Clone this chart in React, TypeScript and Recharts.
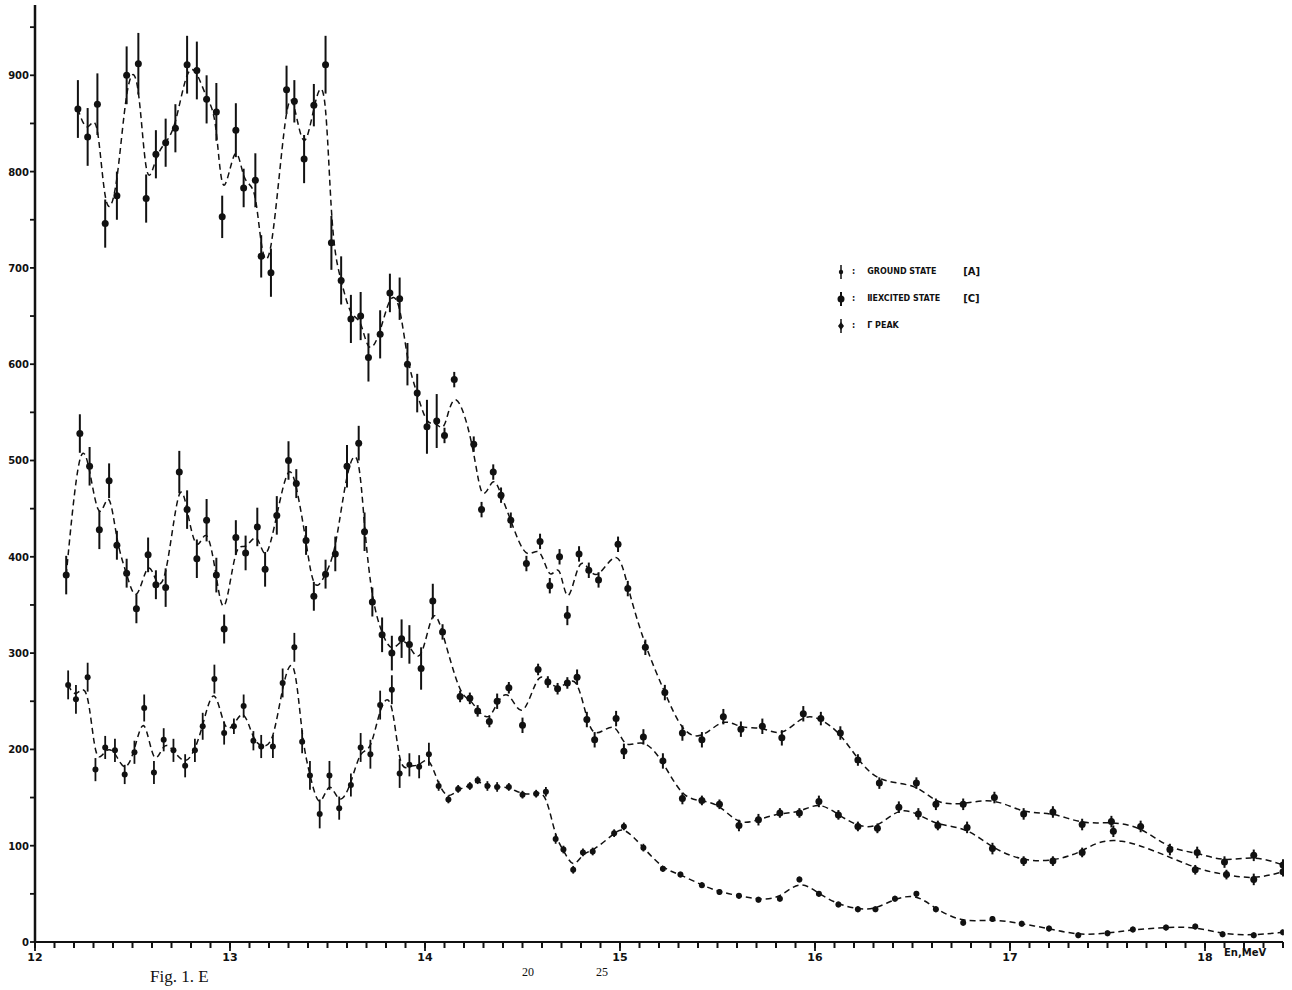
import { ComposedChart, ErrorBar, Line, XAxis, YAxis } from "recharts";

// energy (MeV), counts and error half-widths
const topE = [
  12.22, 12.27, 12.32, 12.36, 12.42, 12.47, 12.53, 12.57, 12.62, 12.67, 12.72, 12.78, 12.83, 12.88,
  12.93, 12.96, 13.03, 13.07, 13.13, 13.16, 13.21, 13.29, 13.33, 13.38, 13.43, 13.49, 13.52, 13.57,
  13.62, 13.67, 13.71, 13.77, 13.82, 13.87, 13.91, 13.96, 14.01, 14.06, 14.1, 14.15, 14.25, 14.29,
  14.35, 14.39, 14.44, 14.52, 14.59, 14.64, 14.69, 14.73, 14.79, 14.84, 14.89, 14.99, 15.04, 15.13,
  15.23, 15.32, 15.42, 15.53, 15.62, 15.73, 15.83, 15.94, 16.03, 16.13, 16.22, 16.33, 16.52, 16.62,
  16.76, 16.92, 17.07, 17.22, 17.37, 17.52, 17.67, 17.82, 17.96, 18.1, 18.25, 18.4,
];
const topV = [
  865, 836, 870, 746, 775, 900, 912, 772, 818, 830, 845, 911, 905, 875, 862, 753, 843, 783, 791, 712,
  695, 885, 873, 813, 869, 911, 726, 687, 647, 650, 607, 631, 674, 668, 600, 570, 535, 541, 526, 584,
  517, 449, 488, 464, 438, 393, 416, 370, 400, 339, 403, 386, 376, 413, 367, 306, 259, 217, 210, 234,
  221, 224, 212, 237, 232, 217, 189, 165, 165, 143, 143, 150, 133, 135, 122, 125, 120, 96, 93, 83, 90,
  80,
];
const topErr = [
  30, 30, 32, 25, 25, 30, 32, 25, 25, 25, 25, 30, 30, 25, 30, 22, 28, 20, 28, 22, 25, 25, 22, 25, 22,
  30, 28, 25, 25, 25, 25, 25, 20, 22, 22, 20, 28, 28, 8, 8, 8, 8, 8, 8, 8, 8, 8, 8, 8, 10, 8, 8, 8, 8,
  8, 8, 8, 8, 8, 8, 8, 8, 8, 8, 7, 7, 6, 6, 6, 6, 6, 6, 6, 6, 6, 6, 6, 6, 6, 6, 6, 6,
];

const midE = [
  12.16, 12.23, 12.28, 12.33, 12.38, 12.42, 12.47, 12.52, 12.58, 12.62, 12.67, 12.74, 12.78, 12.83,
  12.88, 12.93, 12.97, 13.03, 13.08, 13.14, 13.18, 13.24, 13.3, 13.34, 13.39, 13.43, 13.49, 13.54,
  13.6, 13.66, 13.69, 13.73, 13.78, 13.83, 13.88, 13.92, 13.98, 14.04, 14.09, 14.18, 14.23, 14.27,
  14.33, 14.37, 14.43, 14.5, 14.58, 14.63, 14.68, 14.73, 14.78, 14.83, 14.87, 14.98, 15.02, 15.12,
  15.22, 15.32, 15.42, 15.51, 15.61, 15.71, 15.82, 15.92, 16.02, 16.12, 16.22, 16.32, 16.43, 16.53,
  16.63, 16.78, 16.91, 17.07, 17.22, 17.37, 17.53, 17.95, 18.11, 18.25, 18.4,
];
const midV = [
  381, 528, 494, 428, 479, 412, 383, 346, 402, 371, 368, 488, 449, 398, 438, 381, 325, 420, 404, 431,
  387, 443, 500, 476, 417, 359, 382, 403, 494, 518, 426, 353, 319, 300, 315, 309, 284, 354, 322, 255,
  253, 240, 229, 250, 264, 225, 283, 270, 263, 269, 275, 231, 210, 232, 198, 213, 188, 149, 147, 143,
  121, 127, 134, 134, 146, 132, 120, 118, 140, 133, 121, 119, 97, 84, 84, 93, 115, 75, 70, 65, 73,
];
const midErr = [
  20, 20, 20, 20, 18, 15, 15, 15, 18, 15, 20, 22, 20, 20, 22, 18, 15, 18, 18, 20, 18, 20, 20, 15, 15,
  15, 15, 18, 22, 18, 20, 15, 18, 18, 20, 20, 22, 18, 8, 6, 6, 6, 6, 8, 6, 8, 6, 6, 6, 6, 8, 8, 8, 8,
  8, 8, 8, 6, 5, 5, 6, 6, 5, 5, 6, 5, 5, 5, 6, 6, 5, 6, 6, 5, 5, 5, 6, 5, 5, 6, 5,
];

const lowE = [
  12.17, 12.21, 12.27, 12.31, 12.36, 12.41, 12.46, 12.51, 12.56, 12.61, 12.66, 12.71, 12.77, 12.82,
  12.86, 12.92, 12.97, 13.02, 13.07, 13.12, 13.16, 13.22, 13.27, 13.33, 13.37, 13.41, 13.46, 13.51,
  13.56, 13.62, 13.67, 13.72, 13.77, 13.83, 13.87, 13.92, 13.97, 14.02, 14.07, 14.12, 14.17, 14.23,
  14.27, 14.32, 14.37, 14.43, 14.5, 14.57, 14.62, 14.67, 14.71, 14.76, 14.81, 14.86, 14.97, 15.02,
  15.12, 15.22, 15.31, 15.42, 15.51, 15.61, 15.71, 15.82, 15.92, 16.02, 16.12, 16.22, 16.31, 16.41,
  16.52, 16.62, 16.76, 16.91, 17.06, 17.2, 17.35, 17.5, 17.63, 17.8, 17.95, 18.09, 18.25, 18.4,
];
const lowV = [
  267, 252, 275, 179, 202, 199, 174, 197, 243, 176, 210, 199, 183, 199, 224, 273, 217, 224, 245, 209,
  203, 203, 269, 306, 208, 173, 133, 173, 139, 163, 202, 195, 246, 262, 175, 184, 182, 195, 162, 148,
  159, 162, 168, 162, 161, 161, 153, 154, 156, 107, 96, 75, 93, 94, 113, 120, 98, 76, 70, 59, 52, 48,
  44, 45, 65, 50, 39, 34, 34, 45, 50, 34, 20, 24, 19, 14, 7, 9, 13, 15, 16, 8, 7, 10,
];
const lowErr = [
  15, 15, 15, 12, 12, 12, 10, 12, 14, 12, 12, 12, 12, 12, 14, 15, 12, 8, 12, 10, 12, 12, 15, 15, 12,
  15, 15, 15, 12, 12, 15, 15, 15, 15, 15, 12, 12, 12, 5, 4, 4, 4, 4, 5, 5, 4, 4, 4, 5, 5, 4, 4, 4, 4,
  4, 4, 4, 3, 3, 3, 3, 3, 3, 3, 3, 3, 3, 3, 3, 3, 3, 3, 3, 3, 3, 3, 3, 3, 3, 3, 3, 3, 3, 3,
];

const xLabels = [12, 13, 14, 15, 16, 17, 18];
const yLabels = [0, 100, 200, 300, 400, 500, 600, 700, 800, 900];
const xTicks = Array.from({ length: 65 }, (_, i) => Math.round((12 + i * 0.1) * 10) / 10);
const yTicks = Array.from({ length: 20 }, (_, i) => i * 50);

const legendItems = [
  { mark: "small", text: "GROUND STATE", tag: "[A]" },
  { mark: "big", text: "ⅡEXCITED STATE", tag: "[C]" },
  { mark: "diamond", text: "Γ PEAK", tag: "" },
];

const ink = "#111";
const font = "'DejaVu Sans', sans-serif";

const pts = (e: number[], v: number[], s: number[]) =>
  e.map((x, i) => ({ e: x, v: v[i], err: s[i] }));

// built-in tick lines draw the 0.1 MeV marks; whole MeV get a longer mark and a label
const XTick = (props: any) => {
  const { x, y, payload } = props;
  const v = payload.value as number;
  const major = xLabels.some((l) => Math.abs(l - v) < 1e-6);
  if (!major) return <g />;
  return (
    <g>
      <line x1={x} x2={x} y1={y - 3} y2={y + 1} stroke={ink} strokeWidth={1.8} />
      <text x={x} y={y + 11} textAnchor="middle" fontSize={11} fontWeight="bold" fontFamily={font} fill={ink}>
        {Math.round(v)}
      </text>
    </g>
  );
};

const YTick = (props: any) => {
  const { x, y, payload } = props;
  const v = payload.value as number;
  if (!yLabels.includes(v)) return <g />;
  return (
    <text x={x} y={y + 4} textAnchor="end" fontSize={10} fontWeight="bold" fontFamily={font} fill={ink}>
      {v}
    </text>
  );
};

const dot = (r: number) => (p: any) =>
  <circle key={p.index} cx={p.cx} cy={p.cy} r={r} fill={ink} stroke="none" />;

function Marker({ kind }: { kind: string }) {
  return (
    <svg width={10} height={16} style={{ verticalAlign: "middle" }}>
      <line x1={5} x2={5} y1={1} y2={15} stroke={ink} strokeWidth={kind === "big" ? 2 : 1.5} />
      {kind === "diamond" ? (
        <polygon points="5,4 8,8 5,12 2,8" fill={ink} />
      ) : (
        <circle cx={5} cy={8} r={kind === "big" ? 3.5 : 2.2} fill={ink} />
      )}
    </svg>
  );
}

export default function App() {
  const series = [
    { id: "top", data: pts(topE, topV, topErr), r: 3.5, w: 2 },
    { id: "mid", data: pts(midE, midV, midErr), r: 3.5, w: 2 },
    { id: "low", data: pts(lowE, lowV, lowErr), r: 3, w: 1.8 },
  ];

  return (
    <div
      style={{
        position: "absolute",
        left: 0,
        top: 0,
        width: 1292,
        height: 990,
        overflow: "hidden",
        background: "#fff",
      }}
    >
      <ComposedChart width={1292} height={990} margin={{ top: 5, right: 9, bottom: 0, left: 0 }}>
        <XAxis
          dataKey="e"
          type="number"
          domain={[12, 18.4]}
          allowDataOverflow
          ticks={xTicks}
          interval={0}
          tick={<XTick />}
          tickSize={6}
          tickMargin={2}
          tickLine={{ stroke: ink, strokeWidth: 2 }}
          height={48}
          axisLine={{ stroke: ink, strokeWidth: 2 }}
        />
        <YAxis
          type="number"
          domain={[0, 973]}
          allowDataOverflow
          ticks={yTicks}
          interval={0}
          tick={<YTick />}
          tickSize={5}
          tickMargin={1}
          tickLine={{ stroke: ink, strokeWidth: 1.8 }}
          width={35}
          axisLine={{ stroke: ink, strokeWidth: 2.5 }}
        />
        {series.map((s) => (
          <Line
            key={s.id}
            data={s.data}
            dataKey="v"
            type="basis"
            stroke={ink}
            strokeWidth={1.5}
            strokeDasharray="6 4"
            dot={dot(s.r)}
            activeDot={false}
            isAnimationActive={false}
          >
            <ErrorBar dataKey="err" direction="y" width={0} stroke={ink} strokeWidth={s.w} />
          </Line>
        ))}
      </ComposedChart>

      <div
        style={{
          position: "absolute",
          left: 836,
          top: 258,
          fontFamily: font,
          fontWeight: "bold",
          fontSize: 8,
          color: ink,
          lineHeight: "27px",
        }}
      >
        {legendItems.map((it) => (
          <div key={it.text} style={{ display: "flex", alignItems: "center", height: 27 }}>
            <Marker kind={it.mark} />
            <span style={{ margin: "0 12px 0 6px" }}>:</span>
            <span style={{ width: 96 }}>{it.text}</span>
            <span style={{ fontSize: 10 }}>{it.tag}</span>
          </div>
        ))}
      </div>

      <div
        style={{
          position: "absolute",
          left: 1224,
          top: 947,
          fontFamily: font,
          fontWeight: "bold",
          fontSize: 10,
          color: ink,
        }}
      >
        En,MeV
      </div>

      <div
        style={{
          position: "absolute",
          left: 150,
          top: 967,
          fontFamily: "'Liberation Serif', serif",
          fontSize: 17,
          lineHeight: "20px",
          color: ink,
          whiteSpace: "nowrap",
        }}
      >
        Fig. 1. E
      </div>
      <div style={{ position: "absolute", left: 522, top: 965, fontFamily: "'Liberation Serif', serif", fontSize: 12, lineHeight: "14px", color: ink }}>
        20
      </div>
      <div style={{ position: "absolute", left: 596, top: 965, fontFamily: "'Liberation Serif', serif", fontSize: 12, lineHeight: "14px", color: ink }}>
        25
      </div>
    </div>
  );
}
